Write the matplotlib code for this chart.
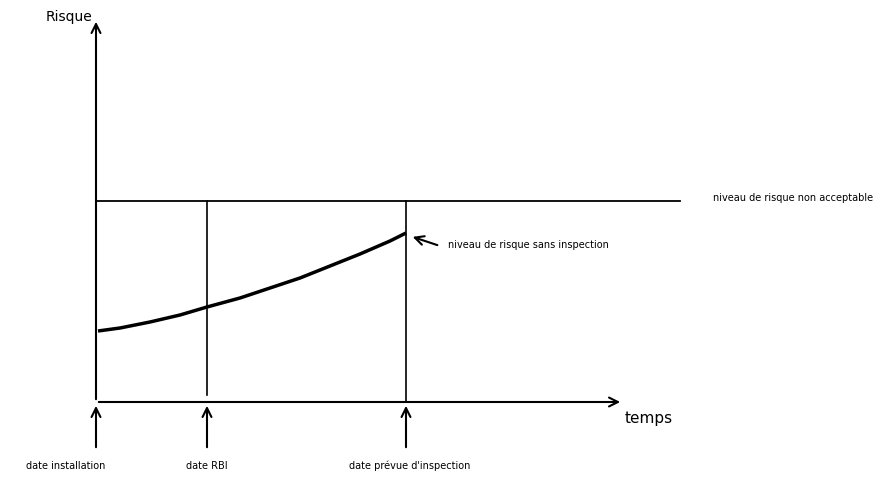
from matplotlib import pyplot as plt
import numpy as np

plt.rcParams['font.family'] = ['DejaVu Sans']

# positions on the time axis (figure pixel units)
dates = [96, 207, 406]
date_labels = ["date installation", "date RBI", "date prévue d'inspection"]
label_x = [66, 207, 410]

# risk curve without inspection (y measured upward from figure bottom)
curve_t = [98, 120, 150, 180, 207, 240, 270, 300, 330, 360, 390, 406]
curve_r = [148, 151, 157, 164, 172, 181, 191, 201, 213, 225, 238, 246]

risk_limit = 278
axis_y = 77

fig = plt.figure(figsize=(8.8, 4.79), dpi=100)
ax = fig.add_axes([0, 0, 1, 1])
ax.set_xlim(0, 880)
ax.set_ylim(0, 479)
ax.axis('off')

arr = dict(arrowstyle='->', color='black', lw=1.5, mutation_scale=16)

# axes
ax.annotate('', xy=(dates[0], 460), xytext=(dates[0], axis_y), arrowprops=arr)
ax.annotate('', xy=(623, axis_y), xytext=(dates[0], axis_y), arrowprops=arr)
ax.text(46, 462, "Risque", fontsize=10, va='center')
ax.text(625, 61, "temps", fontsize=11, va='center')

# non acceptable level
ax.plot([dates[0], 680], [risk_limit, risk_limit], color='black', lw=1.3)
ax.text(713, 281, "niveau de risque non acceptable", fontsize=7, va='center')

# vertical lines
ax.plot([dates[1], dates[1]], [risk_limit, 84], color='black', lw=1.2)
ax.plot([dates[2], dates[2]], [risk_limit, axis_y], color='black', lw=1.2)

# curve
ax.plot(curve_t, curve_r, color='black', lw=2.5, solid_capstyle='butt')
ax.annotate('', xy=(410, 243), xytext=(440, 233), arrowprops=arr)
ax.text(448, 234, "niveau de risque sans inspection", fontsize=7, va='center')

# date arrows
for d, lx, lab in zip(dates, label_x, date_labels):
    ax.annotate('', xy=(d, axis_y - 1), xytext=(d, 29), arrowprops=arr)
    ax.text(lx, 13, lab, fontsize=7, ha='center', va='center')

plt.savefig("out.png", dpi=100)
